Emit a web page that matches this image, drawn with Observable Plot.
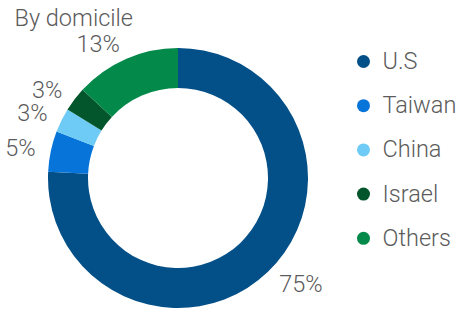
<!DOCTYPE html>
<html><head><meta charset="utf-8">
<script src="https://cdn.jsdelivr.net/npm/d3@7"></script>
<script src="https://cdn.jsdelivr.net/npm/@observablehq/plot@0.6"></script>
<style>
html,body{margin:0;padding:0;background:#fff;}
svg{display:block;}
</style></head><body><div id="chart"></div>
<script>
const title = "By domicile";
const categories = ["U.S", "Taiwan", "China", "Israel", "Others"];
const shares = [75, 5, 3, 3, 13];
const shareLabels = ["75%", "5%", "3%", "3%", "13%"];
const colors = ["#034F88", "#0774D9", "#6DCBF5", "#03562B", "#03894A"];

const W = 459, H = 309;
const cx = 178, cy = 178, rOuter = 130, rInner = 90, rLabel = 146;
const legendX = 363, legendTextX = 382, legendY0 = 61, legendStep = 44.2;
const textColor = "#5b5b5b";
const fontFamily = "Roboto, sans-serif";
const fontSize = 23.5;

const data = categories.map((c, i) => ({category: c, share: shares[i], label: shareLabels[i], i}));
const slices = d3.pie().sort(null).value(d => d.share)(data).map(a => {
  const mid = (a.startAngle + a.endAngle) / 2;
  return {
    ...a.data, startAngle: a.startAngle, endAngle: a.endAngle, mid,
    lx: cx + rLabel * Math.sin(mid), ly: cy - rLabel * Math.cos(mid),
    left: Math.sin(mid) < 0
  };
});
const legend = data.map(d => ({...d, ly: legendY0 + d.i * legendStep}));

function donut(index, scales) {
  const color = scales && scales.color ? scales.color : (c => colors[categories.indexOf(c)]);
  const sx = scales && scales.x ? scales.x : (v => v);
  const sy = scales && scales.y ? scales.y : (v => v);
  const arc = d3.arc().innerRadius(rInner).outerRadius(rOuter);
  const g = d3.create("svg:g").attr("transform", `translate(${sx(cx)},${sy(cy)})`);
  g.selectAll("path").data(slices).join("path")
    .attr("d", d => arc(d))
    .attr("fill", d => color(d.category));
  return g.node();
}

const chart = Plot.plot({
  width: W, height: H,
  margin: 0,
  x: {domain: [0, W], range: [0, W], axis: null},
  y: {domain: [0, H], range: [0, H], axis: null},
  color: {domain: categories, range: colors},
  style: {fontFamily, background: "#fff"},
  marks: [
    donut,
    Plot.text([title], {x: () => 14, y: () => 18, text: d => d, textAnchor: "start",
      fontSize, fontWeight: 300, fill: textColor}),
    Plot.text(slices.filter(d => d.left), {x: "lx", y: "ly", text: "label", textAnchor: "end",
      fontSize, fontWeight: 300, fill: textColor}),
    Plot.text(slices.filter(d => !d.left), {x: "lx", y: "ly", text: "label", textAnchor: "start",
      fontSize, fontWeight: 300, fill: textColor}),
    Plot.dot(legend, {x: () => legendX, y: "ly", r: 6.5, fill: "category", stroke: null}),
    Plot.text(legend, {x: () => legendTextX, y: "ly", text: "category", textAnchor: "start",
      fontSize, fontWeight: 300, fill: textColor})
  ]
});
document.getElementById("chart").appendChild(chart);
</script>
</body></html>
